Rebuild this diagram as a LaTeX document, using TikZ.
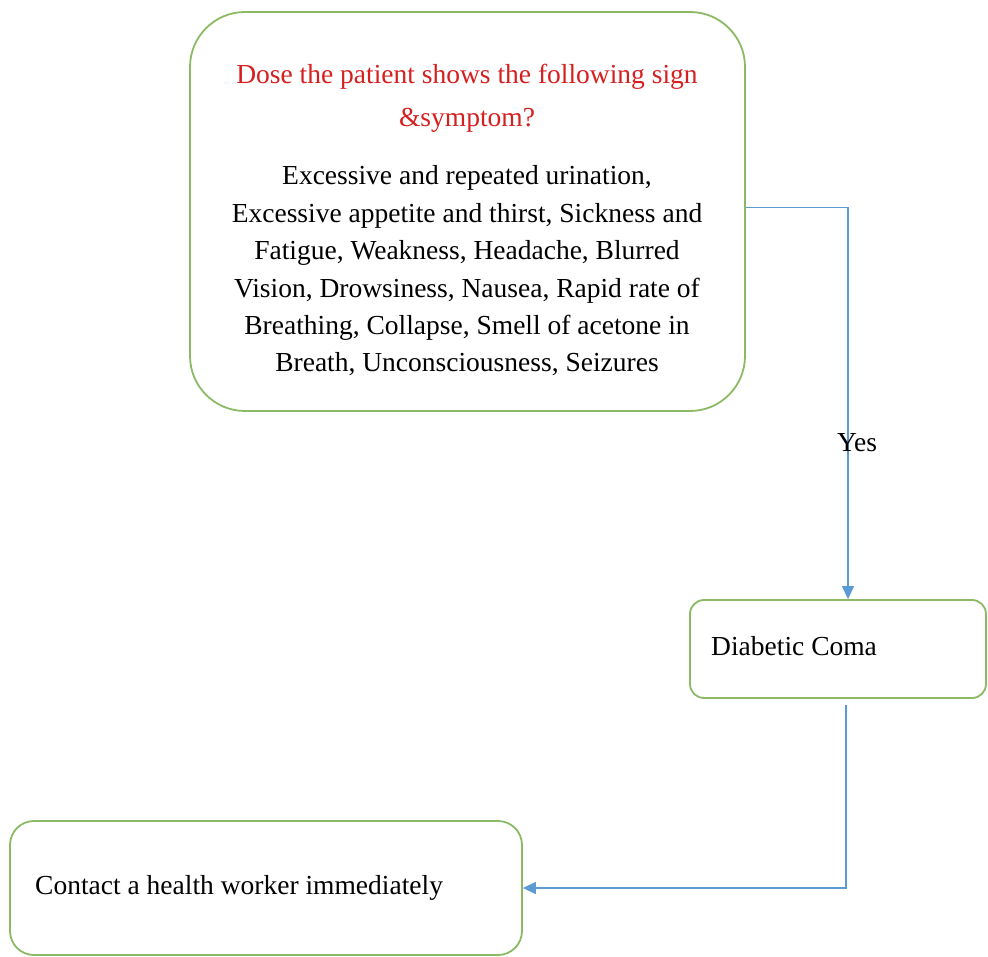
\documentclass[tikz,border=0pt]{standalone}
\usepackage{fontspec}
\setmainfont{Liberation Serif}
\usetikzlibrary{arrows.meta}

\definecolor{boxgreen}{RGB}{140,186,100}
\definecolor{flowblue}{RGB}{91,155,213}
\definecolor{qred}{RGB}{214,32,32}

\tikzset{
  flowbox/.style={draw=boxgreen, line width=1.8pt, fill=white, inner sep=0pt},
  txt/.style={font=\fontsize{27.5}{37.4}\selectfont, inner sep=0pt},
  flow/.style={draw=flowblue, line width=1.3pt,
    -{Triangle[length=13pt,width=12pt]}}
}

\begin{document}
\begin{tikzpicture}[x=1pt,y=-1pt]
\useasboundingbox (0,0) rectangle (988,957);
\fill[white] (0,0) rectangle (988,957);

% question box with its heading and list of signs
\node[flowbox, rounded corners=55pt, minimum width=555pt, minimum height=399pt]
  (question) at (467.5,211.5) {};
\node[txt, text=qred, align=center, font=\fontsize{27.5}{43}\selectfont]
  (heading) at (467,98) {Dose the patient shows the following sign\\\&symptom?};
\node[txt, align=center] (signs) at (467,271)
  {Excessive and repeated urination,\\
   Excessive appetite and thirst, Sickness and\\
   Fatigue, Weakness, Headache, Blurred\\
   Vision, Drowsiness, Nausea, Rapid rate of\\
   Breathing, Collapse, Smell of acetone in\\
   Breath, Unconsciousness, Seizures};

% outcome boxes, each with its text set from the left
\node[flowbox, rounded corners=14pt, minimum width=296pt, minimum height=98pt]
  (coma) at (838,649) {};
\node[txt, anchor=west] (comatext) at (711,646) {Diabetic Coma};
\node[flowbox, rounded corners=24pt, minimum width=512pt, minimum height=134pt]
  (contact) at (266,888) {};
\node[txt, anchor=west] (contacttext) at (35,888) {Contact a health worker immediately};

% connectors
\draw[flow] ([yshift=4pt]question.east) -| ([xshift=10pt]coma.north)
  node[txt, pos=0.80, xshift=9pt] (yes) {Yes};
\coordinate (comaout) at (846,705);
\draw[flow] (comaout) |- (contact.east);
\end{tikzpicture}
\end{document}
